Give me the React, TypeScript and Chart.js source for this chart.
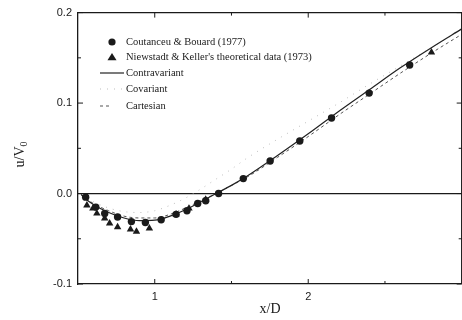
import React, { useEffect, useRef } from 'react';
import { Chart, registerables } from 'chart.js';

Chart.register(...registerables);

const SERIF = '"Liberation Serif", "DejaVu Serif", serif';
const SANS = '"Liberation Sans", Arial, sans-serif';

// Experimental data (Coutanceu & Bouard, 1977)
const circleX = [0.55, 0.616, 0.674, 0.758, 0.848, 0.939, 1.042, 1.139, 1.21, 1.28, 1.332, 1.416, 1.577, 1.752, 1.945, 2.152, 2.397, 2.661];
const circleY = [-0.004, -0.015, -0.022, -0.026, -0.031, -0.032, -0.029, -0.023, -0.019, -0.011, -0.008, 0.0, 0.0165, 0.036, 0.058, 0.0835, 0.111, 0.142];

// Niewstadt & Keller's theoretical data (1973)
const triX = [0.558, 0.597, 0.623, 0.674, 0.706, 0.758, 0.842, 0.881, 0.965, 1.139, 1.223, 1.332, 2.803];
const triY = [-0.013, -0.0165, -0.022, -0.0275, -0.033, -0.037, -0.0395, -0.042, -0.0385, -0.023, -0.0165, -0.0066, 0.156];

// Computed profiles
const lineX = [0.52, 0.55, 0.6, 0.7, 0.8, 0.9, 1.0, 1.1, 1.2, 1.3, 1.4, 1.5, 1.6, 1.8, 2.0, 2.2, 2.4, 2.6, 2.8, 3.0];
const contravariantY = [-0.001, -0.006, -0.012, -0.021, -0.027, -0.030, -0.0295, -0.025, -0.018, -0.009, 0.0, 0.009, 0.019, 0.042, 0.066, 0.091, 0.115, 0.139, 0.161, 0.182];
const covariantY = [-0.001, -0.004, -0.009, -0.016, -0.020, -0.021, -0.019, -0.013, -0.005, 0.005, 0.016, 0.027, 0.039, 0.060, 0.080, 0.100, 0.121, 0.141, 0.161, 0.181];
const cartesianY = [-0.001, -0.005, -0.011, -0.019, -0.025, -0.027, -0.027, -0.023, -0.016, -0.008, 0.0, 0.009, 0.018, 0.040, 0.063, 0.087, 0.110, 0.133, 0.155, 0.176];

const seriesLabels = [
  'Coutanceu & Bouard (1977)',
  "Niewstadt & Keller's theoretical data (1973)",
  'Contravariant',
  'Covariant',
  'Cartesian',
];

const xMajorTicks = [1, 2];
const xMinorTicks = [1.5, 2.5];
const yMajorTicks = [-0.1, 0, 0.1, 0.2];
const yMinorTicks = [-0.05, 0.05, 0.15];

const INK = '#1a1a1a';

const zip = (xs: number[], ys: number[]) => xs.map((x, i) => ({ x, y: ys[i] }));

const framePlugin = {
  id: 'frame',
  beforeDatasetsDraw(chart: any) {
    const { ctx, chartArea: a, scales } = chart;
    const y0 = scales.y.getPixelForValue(0);
    ctx.save();
    ctx.strokeStyle = INK;
    ctx.lineWidth = 1.3;
    ctx.beginPath();
    ctx.moveTo(a.left, y0);
    ctx.lineTo(a.right, y0);
    ctx.stroke();
    ctx.restore();
  },
  afterDraw(chart: any) {
    const { ctx, chartArea: a, scales } = chart;
    ctx.save();
    ctx.strokeStyle = INK;
    ctx.lineWidth = 1.3;
    ctx.beginPath();
    ctx.moveTo(a.left, a.top);
    ctx.lineTo(a.right, a.top);
    ctx.lineTo(a.right, a.bottom);
    ctx.stroke();
    ctx.lineWidth = 1;
    const tick = (x1: number, y1: number, x2: number, y2: number) => {
      ctx.beginPath();
      ctx.moveTo(x1, y1);
      ctx.lineTo(x2, y2);
      ctx.stroke();
    };
    const xt = (vals: number[], len: number) =>
      vals.forEach((v) => {
        const p = scales.x.getPixelForValue(v);
        tick(p, a.bottom, p, a.bottom - len);
        tick(p, a.top, p, a.top + len);
      });
    const yt = (vals: number[], len: number) =>
      vals.forEach((v) => {
        const p = scales.y.getPixelForValue(v);
        tick(a.left, p, a.left + len, p);
        tick(a.right, p, a.right - len, p);
      });
    xt(xMajorTicks, 5);
    xt(xMinorTicks, 3);
    yt(yMajorTicks, 5);
    yt(yMinorTicks, 3);

    // axis titles
    ctx.fillStyle = INK;
    ctx.font = `14px ${SERIF}`;
    ctx.textAlign = 'center';
    ctx.textBaseline = 'middle';
    ctx.fillText('x/D', (a.left + 462) / 2, 309);
    ctx.save();
    ctx.translate(20, 154);
    ctx.rotate(-Math.PI / 2);
    ctx.textAlign = 'left';
    ctx.font = `14px ${SERIF}`;
    const w = ctx.measureText('u/V').width;
    ctx.fillText('u/V', -(w + 6) / 2, 0);
    ctx.font = `10px ${SERIF}`;
    ctx.fillText('0', -(w + 6) / 2 + w, 4);
    ctx.restore();

    // legend
    const ds = chart.data.datasets;
    const rows = [42, 57, 73, 89, 106];
    ctx.font = `10.5px ${SERIF}`;
    ctx.textAlign = 'left';
    ctx.textBaseline = 'middle';
    ds.forEach((d: any, i: number) => {
      const y = rows[i];
      ctx.save();
      ctx.fillStyle = INK;
      ctx.strokeStyle = d.borderColor;
      if (d.pointStyle === 'circle' && !d.showLine) {
        ctx.beginPath();
        ctx.arc(112, y, 3.6, 0, Math.PI * 2);
        ctx.fill();
      } else if (d.pointStyle === 'triangle') {
        ctx.beginPath();
        ctx.moveTo(112, y - 4);
        ctx.lineTo(116.5, y + 3.2);
        ctx.lineTo(107.5, y + 3.2);
        ctx.closePath();
        ctx.fill();
      } else {
        ctx.lineWidth = d.borderWidth;
        ctx.setLineDash(d.borderDash || []);
        ctx.beginPath();
        if (i === 4) {
          ctx.moveTo(100, y);
          ctx.lineTo(112, y);
        } else {
          ctx.moveTo(100, y);
          ctx.lineTo(124, y);
        }
        ctx.stroke();
      }
      ctx.restore();
      ctx.fillStyle = INK;
      ctx.fillText(d.label, 126, y);
    });
    ctx.restore();
  },
};

export default function App() {
  const ref = useRef<HTMLCanvasElement | null>(null);

  useEffect(() => {
    document.body.style.margin = '0';
    const canvas = ref.current;
    if (!canvas) return;
    const chart = new Chart(canvas, {
      type: 'scatter',
      data: {
        datasets: [
          {
            label: seriesLabels[0],
            data: zip(circleX, circleY),
            pointStyle: 'circle',
            pointRadius: 3.7,
            backgroundColor: INK,
            borderColor: INK,
            borderWidth: 0,
            showLine: false,
          },
          {
            label: seriesLabels[1],
            data: zip(triX, triY),
            pointStyle: 'triangle',
            pointRadius: 4.3,
            backgroundColor: INK,
            borderColor: INK,
            borderWidth: 0,
            showLine: false,
          },
          {
            label: seriesLabels[2],
            data: zip(lineX, contravariantY),
            showLine: true,
            pointRadius: 0,
            borderColor: '#222',
            borderWidth: 1.2,
            cubicInterpolationMode: 'monotone',
          },
          {
            label: seriesLabels[3],
            data: zip(lineX, covariantY),
            showLine: true,
            pointRadius: 0,
            borderColor: '#bdbdbd',
            borderWidth: 1,
            borderDash: [1, 6],
            cubicInterpolationMode: 'monotone',
          },
          {
            label: seriesLabels[4],
            data: zip(lineX, cartesianY),
            showLine: true,
            pointRadius: 0,
            borderColor: '#555',
            borderWidth: 1,
            borderDash: [3, 3],
            cubicInterpolationMode: 'monotone',
          },
        ],
      } as any,
      options: {
        responsive: false,
        animation: false,
        devicePixelRatio: 1,
        layout: { padding: { top: 11, right: 2, left: 0, bottom: 0 } },
        plugins: { legend: { display: false }, tooltip: { enabled: false } },
        scales: {
          x: {
            type: 'linear',
            min: 0.5,
            max: 3.0,
            afterBuildTicks: (s: any) => {
              s.ticks = xMajorTicks.map((v) => ({ value: v }));
            },
            afterFit: (s: any) => {
              s.height = 36;
            },
            ticks: {
              padding: 6,
              color: INK,
              font: { family: SANS, size: 11 },
              callback: (v: any) => String(v),
            },
            grid: { drawOnChartArea: false, drawTicks: false },
            border: { display: true, color: INK, width: 1.3 },
          },
          y: {
            type: 'linear',
            min: -0.1,
            max: 0.2,
            afterBuildTicks: (s: any) => {
              s.ticks = yMajorTicks.map((v) => ({ value: v }));
            },
            afterFit: (s: any) => {
              s.width = 78;
            },
            ticks: {
              padding: 6,
              color: INK,
              font: { family: SANS, size: 11 },
              callback: (v: any) => Number(v).toFixed(1),
            },
            grid: { drawOnChartArea: false, drawTicks: false },
            border: { display: true, color: INK, width: 1.3 },
          },
        },
      } as any,
      plugins: [framePlugin],
    });
    return () => chart.destroy();
  }, []);

  return (
    <div style={{ width: 462, height: 320, overflow: 'hidden', background: '#fff' }}>
      <canvas ref={ref} width={466} height={320} style={{ width: 466, height: 320, display: 'block' }} />
    </div>
  );
}
